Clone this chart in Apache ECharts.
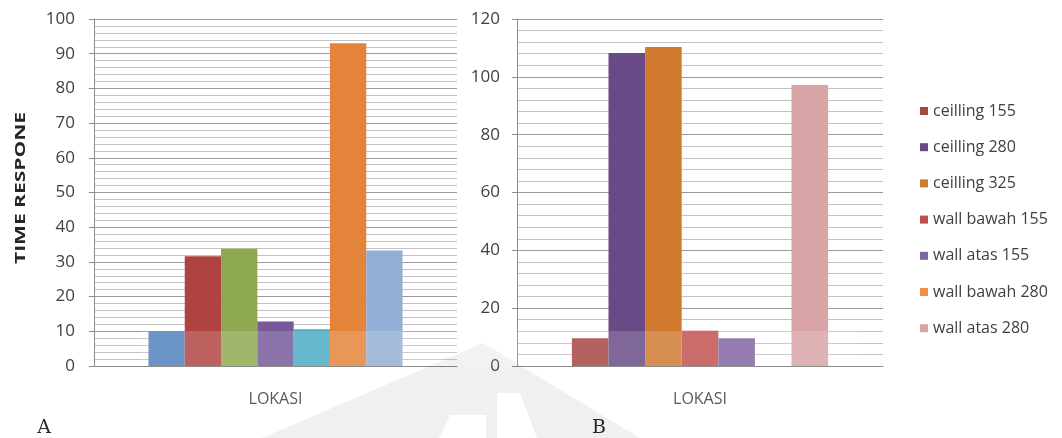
<!DOCTYPE html>
<html>
<head>
<meta charset="utf-8">
<script src="https://cdn.jsdelivr.net/npm/echarts@6/dist/echarts.min.js"></script>
<style>
  html, body { margin: 0; padding: 0; background: #ffffff; }
  #chart { width: 1062px; height: 438px; }
</style>
</head>
<body>
<div id="chart"></div>
<script>
// Time response per sensor location, two measurement sets (A and B)
const categories = ['LOKASI'];

const seriesNames = [
  'ceilling 155', 'ceilling 280', 'ceilling 325',
  'wall bawah 155', 'wall atas 155', 'wall bawah 280', 'wall atas 280'
];

// Panel A values
const valuesA = [10.1, 31.6, 33.8, 12.8, 10.6, 93.0, 33.3];
// Panel B values (wall bawah 280 has no reading)
const valuesB = [9.6, 108.2, 110.3, 12.2, 9.6, null, 97.2];

const colorsA = ['#4F81BD', '#B0433F', '#8EA84F', '#77599A', '#4BAAC4', '#E4843A', '#93AFD6'];
const colorsB = ['#A64542', '#684A86', '#D07A30', '#C0504D', '#8064A2', '#F0914A', '#D8A4A6'];

const ticksA = { min: 0, max: 100, interval: 10 };
const ticksB = { min: 0, max: 120, interval: 20 };

const FONT = '"Open Sans", "Liberation Sans", sans-serif';

function valueAxis(gridIndex, t, labelMargin) {
  return {
    type: 'value',
    gridIndex: gridIndex,
    min: t.min, max: t.max, interval: t.interval,
    axisLine: { show: true, lineStyle: { color: '#8c8c8c', width: 1 } },
    axisTick: { show: true, length: 5, lineStyle: { color: '#8c8c8c' } },
    axisLabel: { color: '#404040', fontFamily: FONT, fontSize: 17, margin: labelMargin },
    splitLine: { show: true, lineStyle: { color: '#9a9a9a', width: 1 } },
    minorTick: { show: false, splitNumber: 5 },
    minorSplitLine: { show: true, lineStyle: { color: '#c2c2c2', width: 1 } }
  };
}

function categoryAxis(gridIndex) {
  return {
    type: 'category',
    gridIndex: gridIndex,
    data: categories,
    axisLine: { show: true, lineStyle: { color: '#8c8c8c', width: 1 } },
    axisTick: { show: false },
    axisLabel: { color: '#595959', fontFamily: FONT, fontSize: 16, margin: 25 },
    splitLine: { show: false }
  };
}

function barSeries(names, values, colors, axisIndex) {
  return names.map(function (name, i) {
    return {
      type: 'bar',
      name: name,
      xAxisIndex: axisIndex,
      yAxisIndex: axisIndex,
      data: [values[i]],
      barGap: '0%',
      barCategoryGap: '30%',
      itemStyle: { color: colors[i] },
      emphasis: { disabled: true }
    };
  });
}

const chart = echarts.init(document.getElementById('chart'), null, { renderer: 'canvas' });

chart.setOption({
  backgroundColor: '#ffffff',
  animation: false,
  grid: [
    { left: 94, top: 19, width: 363, height: 347 },
    { left: 517, top: 19, width: 366, height: 347 }
  ],
  xAxis: [categoryAxis(0), categoryAxis(1)],
  yAxis: [valueAxis(0, ticksA, 19), valueAxis(1, ticksB, 17)],
  legend: {
    orient: 'vertical',
    left: 915,
    top: 98,
    itemWidth: 8,
    itemHeight: 8,
    itemGap: 20.2,
    icon: 'rect',
    selectedMode: false,
    textStyle: { color: '#404040', fontFamily: FONT, fontSize: 16, lineHeight: 16 },
    data: seriesNames.map(function (n, i) {
      return { name: n, itemStyle: { color: colorsB[i] } };
    })
  },
  // Panel B is listed first so the legend takes its colours
  series: barSeries(seriesNames, valuesB, colorsB, 1)
    .concat(barSeries(seriesNames, valuesA, colorsA, 0)),
  graphic: [
    {
      type: 'text',
      x: 21, y: 188,
      rotation: Math.PI / 2,
      scaleX: 1.5,
      style: {
        text: 'TIME RESPONE',
        font: 'bold 14px ' + FONT,
        fill: '#262626',
        align: 'center',
        verticalAlign: 'middle'
      }
    },
    {
      type: 'text', x: 44, y: 428,
      style: { text: 'A', font: '19px "DejaVu Serif", "Liberation Serif", serif', fill: '#2a2a2a', align: 'center', verticalAlign: 'middle' }
    },
    {
      type: 'text', x: 599, y: 428,
      style: { text: 'B', font: '19px "DejaVu Serif", "Liberation Serif", serif', fill: '#2a2a2a', align: 'center', verticalAlign: 'middle' }
    },
    // faint emblem in the background
    {
      type: 'polygon', z: 20, silent: true,
      shape: { points: [[262, 438], [483, 343], [640, 438]] },
      style: { fill: 'rgba(0,0,0,0.06)' }
    },
    {
      type: 'polygon', z: 21, silent: true,
      shape: { points: [[439, 438], [450, 415], [486, 415], [486, 438]] },
      style: { fill: '#ffffff' }
    },
    {
      type: 'polygon', z: 21, silent: true,
      shape: { points: [[497, 438], [497, 393], [520, 393], [537, 438]] },
      style: { fill: '#ffffff' }
    },
    {
      type: 'rect', z: 20, silent: true,
      shape: { x: 140, y: 331, width: 720, height: 35 },
      style: { fill: 'rgba(255,255,255,0.16)' }
    }
  ]
});
</script>
</body>
</html>
